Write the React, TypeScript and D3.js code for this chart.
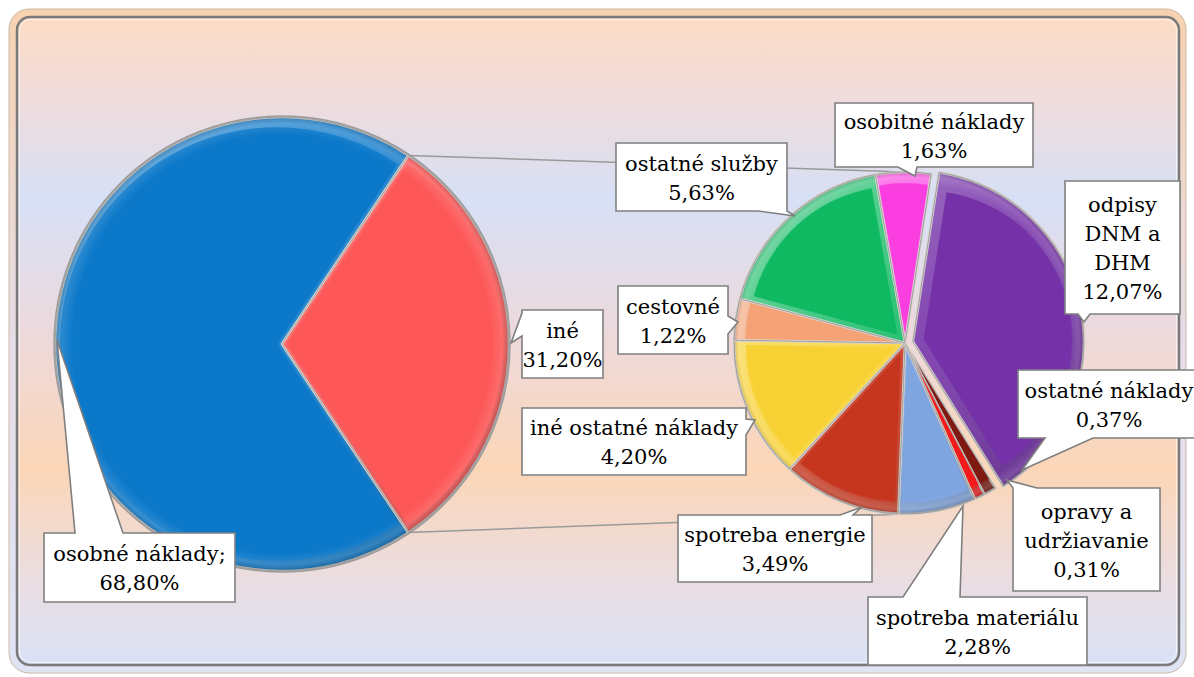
import { pie, arc } from 'd3'

// Pie-of-pie: personal costs vs. "iné", with "iné" broken down in the second pie.
const primaryNames = ['osobné náklady;', 'iné']
const primaryValues = [68.8, 31.2]
const primaryColors = ['#0b78c9', '#fd5757']

const secondaryNames = [
  'osobitné náklady',
  'odpisy\nDNM a\nDHM',
  'ostatné náklady',
  'opravy a\nudržiavanie',
  'spotreba materiálu',
  'spotreba energie',
  'iné ostatné náklady',
  'cestovné',
  'ostatné služby',
]
const secondaryValues = [1.63, 12.07, 0.37, 0.31, 2.28, 3.49, 4.2, 1.22, 5.63]
const secondaryColors = [
  '#fb3ee0',
  '#7431a8',
  '#7e1a12',
  '#f21a1a',
  '#7fa5e0',
  '#c6361f',
  '#f8d234',
  '#f4a276',
  '#0fb961',
]

type Callout = { box: [number, number, number, number]; side: 'top' | 'bottom' | 'left' | 'right'; base: [number, number]; apex: [number, number] }

// label box placement, hand-tuned to the picture
const primaryCallouts: Callout[] = [
  { box: [44, 533, 235, 602], side: 'top', base: [75, 123], apex: [57, 340] },
  { box: [522, 310, 603, 378], side: 'left', base: [313, 336], apex: [511, 343] },
]
const secondaryCallouts: Callout[] = [
  { box: [835, 103, 1033, 167], side: 'bottom', base: [898, 917], apex: [915, 176] },
  { box: [1065, 181, 1180, 314], side: 'bottom', base: [1078, 1090], apex: [1084, 322] },
  { box: [1018, 370, 1200, 438], side: 'bottom', base: [1045, 1093], apex: [1022, 470] },
  { box: [1013, 488, 1160, 591], side: 'top', base: [1013, 1037], apex: [1007, 480] },
  { box: [868, 597, 1087, 665], side: 'top', base: [903, 960], apex: [963, 506] },
  { box: [678, 515, 872, 582], side: 'top', base: [840, 853], apex: [862, 507] },
  { box: [522, 408, 746, 475], side: 'right', base: [419, 435], apex: [755, 420] },
  { box: [618, 286, 728, 354], side: 'right', base: [316, 334], apex: [738, 322] },
  { box: [616, 143, 787, 211], side: 'bottom', base: [758, 787], apex: [795, 216] },
]

const W = 1194
const H = 677
const C1 = { x: 282, y: 344, r: 227 }
const C2 = { x: 905, y: 343, r: 171 }
const deg = Math.PI / 180
const fmt = (v: number) => v.toFixed(2).replace('.', ',') + '%'
const FONT = '"DejaVu Serif", serif'

function calloutPath({ box: [x1, y1, x2, y2], side, base: [b0, b1], apex: [ax, ay] }: Callout) {
  const p: [number, number][] = [[x1, y1]]
  if (side === 'top') p.push([b0, y1], [ax, ay], [b1, y1])
  p.push([x2, y1])
  if (side === 'right') p.push([x2, b0], [ax, ay], [x2, b1])
  p.push([x2, y2])
  if (side === 'bottom') p.push([b1, y2], [ax, ay], [b0, y2])
  p.push([x1, y2])
  if (side === 'left') p.push([x1, b1], [ax, ay], [x1, b0])
  return 'M' + p.map((q) => q.join(',')).join('L') + 'Z'
}

function Label({ c, lines }: { c: Callout; lines: string[] }) {
  const [x1, y1, x2, y2] = c.box
  const cx = (x1 + x2) / 2
  const lh = 29
  const y0 = (y1 + y2) / 2 - ((lines.length - 1) * lh) / 2 + 8
  return (
    <g>
      <path d={calloutPath(c)} fill="#fff" stroke="#7f7f7f" strokeWidth={1.6} strokeLinejoin="miter" />
      <text fontFamily={FONT} fontSize={21} fill="#000" textAnchor="middle">
        {lines.map((t, i) => (
          <tspan key={i} x={cx} y={y0 + i * lh}>
            {t}
          </tspan>
        ))}
      </text>
    </g>
  )
}

// a bevelled slice: lit edge band under a flat, slightly shrunk face
function Slice({ d, gen, color, id, k }: { d: any; gen: any; color: string; id: string; k: number }) {
  const [mx, my] = gen.centroid(d)
  const path = gen(d) ?? ''
  return (
    <g>
      <path d={path} fill={color} stroke="#d6d0ca" strokeWidth={2.5} strokeLinejoin="round" />
      <path d={path} fill={`url(#light-${id})`} />
      <path d={path} fill={color} transform={`translate(${mx * (1 - k)},${my * (1 - k)}) scale(${k})`} />
      <path d={path} fill={`url(#rim-${id})`} stroke="#a0a0a0" strokeWidth={1} />
    </g>
  )
}

function Gradients({ id, r, lit }: { id: string; r: number; lit: number }) {
  return (
    <>
      <linearGradient id={`light-${id}`} gradientUnits="userSpaceOnUse" x1={-r} y1={-r} x2={r} y2={r}>
        <stop offset="0" stopColor="#fff" stopOpacity={lit} />
        <stop offset="0.5" stopColor="#fff" stopOpacity={lit / 4} />
        <stop offset="1" stopColor="#000" stopOpacity={lit * 0.6} />
      </linearGradient>
      <radialGradient id={`rim-${id}`} gradientUnits="userSpaceOnUse" cx={0} cy={0} r={r}>
        <stop offset="0" stopColor="#fff" stopOpacity={0} />
        <stop offset="0.92" stopColor="#fff" stopOpacity={0} />
        <stop offset="0.97" stopColor="#fff" stopOpacity={0.12} />
        <stop offset="1" stopColor="#000" stopOpacity={0.15} />
      </radialGradient>
    </>
  )
}

export default function App() {
  // red slice centred on 3 o'clock
  const start1 = Math.PI / 2 + (primaryValues[1] / (primaryValues[0] + primaryValues[1])) * Math.PI
  const arcs1 = pie<number>().sort(null).startAngle(start1).endAngle(start1 + 2 * Math.PI)(primaryValues)
  const start2 = -10 * deg
  const arcs2 = pie<number>().sort(null).startAngle(start2).endAngle(start2 + 2 * Math.PI)(secondaryValues)
  const a1 = arc<any>().innerRadius(0).outerRadius(C1.r)
  const a2 = arc<any>().innerRadius(0).outerRadius(C2.r)

  const red = arcs1[1]
  const pt = (a: number): [number, number] => [C1.x + C1.r * Math.sin(a), C1.y - C1.r * Math.cos(a)]
  const [tx, ty] = pt(red.startAngle)
  const [bx, by] = pt(red.endAngle)

  return (
    <svg width={W} height={H} style={{ position: 'absolute', left: 0, top: 0 }} fontFamily={FONT}>
      <defs>
        <linearGradient id="bg" x1="0" y1="0" x2="0" y2="1">
          <stop offset="0" stopColor="#fddcc4" />
          <stop offset="0.13" stopColor="#efdcdc" />
          <stop offset="0.28" stopColor="#d7e0f6" />
          <stop offset="0.48" stopColor="#ecd9dd" />
          <stop offset="0.7" stopColor="#fcd6b7" />
          <stop offset="0.87" stopColor="#eadde2" />
          <stop offset="1" stopColor="#dae2f6" />
        </linearGradient>
        <linearGradient id="frame" x1="0" y1="0" x2="0" y2="1">
          <stop offset="0" stopColor="#f6d2b0" />
          <stop offset="0.5" stopColor="#e6dde8" />
          <stop offset="1" stopColor="#dfe4f4" />
        </linearGradient>
        <Gradients id="p1" r={C1.r} lit={0.35} />
        <Gradients id="p2" r={C2.r} lit={0.45} />
      </defs>

      <rect x={9} y={9} width={1177} height={664} rx={20} fill="url(#frame)" stroke="#cdb9a8" strokeWidth={1} />
      <rect x={17} y={17} width={1162} height={648} rx={13} fill="url(#bg)" stroke="#7a7a7a" strokeWidth={2.5} />
      <rect x={19.5} y={19.5} width={1157} height={643} rx={11} fill="none" stroke="#ffffff" strokeOpacity={0.6} strokeWidth={1} />

      {/* series lines linking the "iné" slice to the second pie */}
      <line x1={tx} y1={ty} x2={C2.x} y2={C2.y - C2.r} stroke="#9a9a9a" strokeWidth={1.5} />
      <line x1={bx} y1={by} x2={C2.x} y2={C2.y + C2.r} stroke="#9a9a9a" strokeWidth={1.5} />

      <g transform={`translate(${C1.x},${C1.y})`}>
        {arcs1.map((d, i) => (
          <Slice key={i} d={d} gen={a1} color={primaryColors[i]} id="p1" k={0.955} />
        ))}
        <circle r={C1.r + 1} fill="none" stroke="#9c9c9c" strokeWidth={1.5} />
      </g>

      <g transform={`translate(${C2.x},${C2.y})`}>
        {arcs2.map((d, i) => {
          // odpisy slice is pulled out a little
          const off = i === 1 ? 8 : 0
          const m = (d.startAngle + d.endAngle) / 2
          return (
            <g key={i} transform={`translate(${off * Math.sin(m)},${-off * Math.cos(m)})`}>
              <Slice d={d} gen={a2} color={secondaryColors[i]} id="p2" k={0.87} />
            </g>
          )
        })}
      </g>

      {primaryCallouts.map((c, i) => (
        <Label key={'p' + i} c={c} lines={[primaryNames[i], fmt(primaryValues[i])]} />
      ))}
      {secondaryCallouts.map((c, i) => (
        <Label key={'s' + i} c={c} lines={[...secondaryNames[i].split('\n'), fmt(secondaryValues[i])]} />
      ))}
    </svg>
  )
}
